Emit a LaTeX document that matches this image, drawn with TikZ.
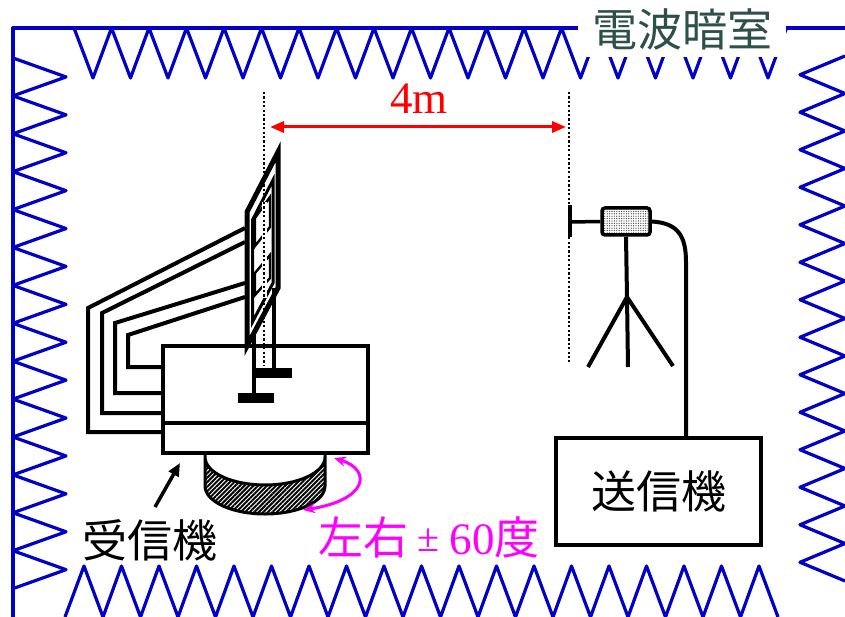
\documentclass[tikz,border=0pt]{standalone}
\usepackage{fontspec}
\setmainfont{Liberation Serif}
\newfontfamily\cjk{Noto Sans CJK JP}
\usetikzlibrary{arrows.meta,patterns.meta}
\definecolor{wallblue}{RGB}{0,0,200}
\definecolor{titlegreen}{RGB}{45,80,72}
\definecolor{rotpink}{RGB}{255,0,255}

\begin{document}
\begin{tikzpicture}[x=1pt,y=-1pt,
	wall/.style={wallblue, line width=3.2, line join=round},
	box/.style={draw, line width=4, fill=white, inner sep=0, align=center},
	heavy/.style={line width=4},
	cable/.style={line width=4, line join=miter},
	dotline/.style={line width=2.2, dash pattern=on 2.2pt off 2.2pt},
	dimarrow/.style={red, line width=3, {Triangle[length=14pt,width=11pt]}-{Triangle[length=14pt,width=11pt]}},
	rotarrow/.style={rotpink, line width=3, {Stealth[length=12pt,width=10pt]}-{Stealth[length=12pt,width=10pt]}},
	jtext/.style={font=\cjk\fontsize{45}{50}\selectfont, inner sep=0}]
	\useasboundingbox (0,0) rectangle (845,617);

	% chamber walls with absorber teeth
	\draw[wall] (13,617) -- (13,28) -- (845,28);
	\draw[wall] (74,28) \foreach \i in {0,...,18} { -- ({93+37.5*\i},78) -- ({111.5+37.5*\i},28) };
	\draw[wall] (13,58) \foreach \i in {0,...,13} { -- (66,{76.95+37.9*\i}) -- (13,{95.9+37.9*\i}) };
	\draw[wall] (845,56) \foreach \i in {0,...,13} { -- (800,{74.75+37.5*\i}) -- (845,{93.5+37.5*\i}) };
	\draw[wall] (65,617) \foreach \i in {0,...,18} { -- ({84+37.5*\i},566) -- ({103+37.5*\i},617) };
	\node[jtext, text=titlegreen, fill=white, minimum width=208, minimum height=56] (title) at (682,29) {電波暗室};

	% distance
	\coordinate (dl1) at (264,92);
	\coordinate (dl2) at (264,366);
	\coordinate (dr1) at (569,92);
	\coordinate (dr2) at (569,362);
	\coordinate (d1) at (270,127);
	\coordinate (d2) at (566,127);
	\draw[dotline] (dr1) -- (dr2);
	\draw[dimarrow] (d1) -- (d2);
	\node[text=red, font=\fontsize{45}{45}\selectfont, inner sep=0] (dist) at (419,99) {4m};

	% receiver
	\draw[cable] (245,228) -- (88,308) -- (88,432) -- (162,432);
	\draw[cable] (245,242) -- (102,313) -- (102,413) -- (162,413);
	\draw[cable] (245,283) -- (115,323) -- (115,393) -- (162,393);
	\draw[cable] (245,297) -- (128,335) -- (128,367) -- (162,367);
	\draw[line width=3, pattern={Lines[angle=45,distance=3.2pt,line width=2pt]}] (205,455) -- (205,486) arc[start angle=180,end angle=0,x radius=60,y radius=28] -- (325,455) -- (325,457) arc[start angle=0,end angle=180,x radius=60,y radius=28] -- cycle;
	\node[box, minimum width=205, minimum height=30] (rxbase) at (265.5,438) {};
	\node[box, minimum width=205, minimum height=77] (rxbox) at (265.5,384.5) {};
	\filldraw[fill=white, line width=5] (247,212) -- (278,152) -- (278,288) -- (247,346) -- cycle;
	\draw[line width=3] (252.5,220) -- (273,180) -- (273,283) -- (252.5,322) -- cycle;
	\draw[line width=2.4] (255,218) -- (270,197) -- (270,227) -- (255,246) -- cycle;
	\draw[line width=2.4] (255,273) -- (270,255) -- (270,278) -- (255,295) -- cycle;
	\draw[heavy] (274,288) -- (274,372);
	\draw[heavy] (254,333) -- (254,398);
	\fill (255,368) rectangle (292,378);
	\fill (238,393) rectangle (274,403);
	\draw[white, line width=5] (264,202) -- (264,298);
	\draw[dotline] (dl1) -- (dl2);

	\coordinate (rot1) at (334,458);
	\coordinate (rot2) at (303,510);
	\draw[rotarrow] (rot1) .. controls (372,470) and (368,500) .. (rot2);
	\node[jtext, text=rotpink] (angtext) at (429,537) {左右\kern9pt\raisebox{3pt}{\rmfamily\fontsize{40}{40}\selectfont±}\kern11pt{\rmfamily 60}度};

	\node[jtext] (rxlabel) at (150,540) {受信機};
	\coordinate (rxtail) at (155,507);
	\coordinate (rxtip) at (180,463);
	\draw[line width=3.5, -{Triangle[length=13pt,width=11pt]}] (rxtail) -- (rxtip);

	% transmitter
	\node[draw, line width=3.5, rounded corners=3, minimum width=48, minimum height=27, inner sep=0, pattern={Dots[distance=2.4pt,radius=0.65pt]}, pattern color=black!75] (tant) at (626,221.5) {};
	\draw[heavy] (570,205) -- (570,237);
	\draw[line width=3.5] (570,222) -- (tant.west);
	\coordinate (tpk) at (627,297);
	\draw[heavy] (tant.south) -- (tpk);
	\draw[heavy, line join=round] (588,367) -- (tpk) -- (673,366);
	\draw[heavy] (tpk) -- (628,367);
	\node[box, jtext, line width=4.5, minimum width=205, minimum height=107] (tx) at (658.5,491.5) {送信機};
	\coordinate (txin) at (686,437);
	\draw[heavy] (tant.east) .. controls (678,223) and (686,236) .. (686,262) -- (txin);
\end{tikzpicture}
\end{document}
